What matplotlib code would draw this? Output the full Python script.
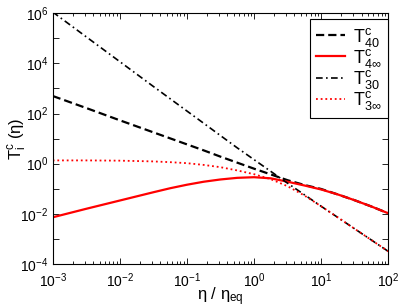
import matplotlib
matplotlib.use("Agg")
import matplotlib.pyplot as plt
import numpy as np
from matplotlib.ticker import LogLocator, NullFormatter, FixedLocator

plt.rcParams['font.family'] = ['Liberation Sans', 'DejaVu Sans']
plt.rcParams['mathtext.fontset'] = 'custom'
plt.rcParams['mathtext.rm'] = 'Liberation Sans'
plt.rcParams['mathtext.it'] = 'Liberation Sans'
plt.rcParams['mathtext.bf'] = 'Liberation Sans:bold'

# eta / eta_eq sample positions
eta = [1e-3, 3.16e-3, 1e-2, 3.16e-2, 5.62e-2, 0.1, 0.178, 0.316, 0.562, 1.0,
       1.78, 3.16, 5.62, 10.0, 17.8, 31.6, 56.2, 100.0]

# log10 of T_i^c
logT40 = [2.70, 2.22, 1.73, 1.25, 1.01, 0.77, 0.53, 0.28, 0.04, -0.20,
          -0.43, -0.66, -0.85, -1.01, -1.23, -1.46, -1.71, -1.98]
logT4inf = [-2.14, -1.80, -1.47, -1.14, -0.98, -0.84, -0.72, -0.63, -0.565, -0.54,
            -0.585, -0.72, -0.87, -1.03, -1.23, -1.46, -1.71, -1.98]
logT30 = [6.05, 5.06, 4.07, 3.08, 2.59, 2.10, 1.61, 1.12, 0.63, 0.16,
          -0.31, -0.78, -1.24, -1.70, -2.15, -2.60, -3.05, -3.50]
logT3inf = [0.13, 0.13, 0.12, 0.09, 0.06, 0.02, -0.05, -0.14, -0.27, -0.42,
            -0.62, -0.90, -1.27, -1.70, -2.15, -2.60, -3.05, -3.50]

labels = [r'$\mathrm{T}^{c}_{40}$', r'$\mathrm{T}^{c}_{4\infty}$',
          r'$\mathrm{T}^{c}_{30}$', r'$\mathrm{T}^{c}_{3\infty}$']

fig = plt.figure(figsize=(4.02, 3.08), dpi=100)
ax = fig.add_axes([0.131, 0.143, 0.835, 0.814])

ax.plot(eta, 10 ** np.array(logT40), color='black', lw=1.6, ls=(0, (3.7, 1.8)), label=labels[0])
ax.plot(eta, 10 ** np.array(logT4inf), color='red', lw=1.6, ls='-', label=labels[1])
ax.plot(eta, 10 ** np.array(logT30), color='black', lw=1.2, ls=(0, (4, 2, 1, 2)), label=labels[2])
ax.plot(eta, 10 ** np.array(logT3inf), color='red', lw=1.3, ls=(0, (1, 1.6)), label=labels[3])

ax.set_xscale('log')
ax.set_yscale('log')
ax.set_xlim(1e-3, 1e2)
ax.set_ylim(1e-4, 1e6)

ax.xaxis.set_major_locator(LogLocator(base=10, numticks=10))
ax.xaxis.set_minor_locator(LogLocator(base=10, subs=np.arange(2, 10), numticks=20))
ax.xaxis.set_minor_formatter(NullFormatter())
ax.yaxis.set_major_locator(FixedLocator([1e-4, 1e-2, 1e0, 1e2, 1e4, 1e6]))
ax.yaxis.set_minor_locator(FixedLocator([1e-3, 1e-1, 1e1, 1e3, 1e5]))
ax.yaxis.set_minor_formatter(NullFormatter())

ax.tick_params(which='both', direction='in', top=True, right=True, labelsize=10)
ax.tick_params(axis='x', which='both', pad=5)
ax.tick_params(axis='y', which='both', pad=3)
ax.tick_params(which='major', length=4, width=0.6)
ax.tick_params(which='minor', length=2, width=0.6)
ax.tick_params(axis='y', which='minor', length=4)
for s in ax.spines.values():
    s.set_linewidth(0.8)

ax.set_xlabel(r'$\eta\ /\ \eta_{\mathrm{eq}}$', fontsize=12, va='center')
ax.xaxis.set_label_coords(0.5, -0.13)
ax.set_ylabel(r'$\mathrm{T}^{c}_{i}\ (\eta)$', fontsize=12, va='center')
ax.yaxis.set_label_coords(-0.103, 0.5)

leg = ax.legend(loc='upper right', bbox_to_anchor=(1.0, 0.976), fontsize=13,
                fancybox=False, framealpha=1, edgecolor='black',
                handlelength=1.6, handletextpad=0.45, labelspacing=-0.1,
                borderpad=0.35, borderaxespad=0.0)
leg.get_frame().set_linewidth(0.8)

fig.savefig('out.png', dpi=100)
